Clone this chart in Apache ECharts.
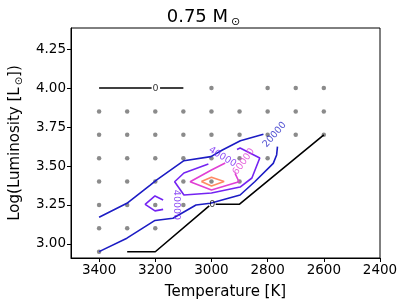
<!DOCTYPE html>
<html>
<head>
<meta charset="utf-8">
<script src="https://cdn.jsdelivr.net/npm/echarts@6/dist/echarts.min.js"></script>
<style>
html,body{margin:0;padding:0;background:#fff;}
#chart{width:407px;height:306px;}
</style>
</head>
<body>
<div id="chart"></div>
<script>
// ---- data ----
const tempTicks = [3400, 3200, 3000, 2800, 2600, 2400];
const lumTicks = [3.00, 3.25, 3.50, 3.75, 4.00, 4.25];

// model grid (gray dots): luminosity rows and the temperatures present on each row
const gridLum = [4.00, 3.85, 3.70, 3.55, 3.40, 3.25, 3.10, 2.95];
const gridTemps = [
  [3000, 2800, 2700, 2600],
  [3400, 3300, 3200, 3100, 3000, 2900, 2800, 2700, 2600],
  [3400, 3300, 3200, 3100, 3000, 2900, 2800, 2700, 2600],
  [3400, 3300, 3200, 3100, 3000, 2900, 2800],
  [3400, 3300, 3200, 3100, 3000, 2900],
  [3400, 3300, 3200, 3100],
  [3400, 3300, 3200],
  [3400]
];

// contour levels and their line segments ([T, logL] pairs)
const contourLevels = [0, 20000, 40000, 60000, 80000];
const level0 = [
  [[3400, 4.00], [3213, 4.00]],
  [[3183, 4.00], [3100, 4.00]],
  [[3300, 2.95], [3200, 2.95], [3008, 3.244]],
  [[2985, 3.255], [2900, 3.255], [2600, 3.70]]
];
const level20000 = [
  [[3400, 3.171], [3301, 3.261], [3218, 3.378], [3196, 3.41], [3098, 3.534], [3002, 3.56], [2961, 3.603], [2897, 3.662], [2815, 3.703]],
  [[2765, 3.624], [2768, 3.571], [2780, 3.517], [2846, 3.399], [2898, 3.314], [3004, 3.261], [3055, 3.25], [3137, 3.165], [3201, 3.151], [3301, 3.037], [3400, 2.951]]
];
const level40000 = [
  [[2909, 3.606], [2898, 3.615], [2828, 3.551], [2856, 3.423], [2898, 3.365], [3000, 3.327], [3098, 3.314], [3131, 3.399], [3098, 3.455], [3011, 3.513]],
  [[3172, 3.282], [3201, 3.308], [3236, 3.254], [3201, 3.212], [3172, 3.222]]
];
const level60000 = [
  [[2916, 3.453], [2902, 3.399], [3000, 3.346], [3076, 3.399], [3000, 3.474], [2951, 3.519]]
];
const level80000 = [
  [[3036, 3.40], [3000, 3.428], [2955, 3.40], [3000, 3.372], [3036, 3.40]]
];
const contourSegments = [level0, level20000, level40000, level60000, level80000];

// inline contour labels
const labelTexts = ['0', '0', '20000', '40000', '40000', '60000'];
const labelLevelIdx = [0, 0, 1, 2, 2, 3];
const labelPos = [[3199, 4.00], [2997, 3.255], [2775, 3.70], [2961, 3.558], [3126, 3.25], [2885, 3.528]];

// ---- styles ----
const levelColors = ['#000000', '#1c1cc4', '#7424f2', '#e040d4', '#ff8a64'];
const labelRotate = [0, 0, 49, -31, -90, 54];
const FONT = 'DejaVu Sans';

const series = [];
// gray grid dots
const dots = [];
gridLum.forEach((L, i) => gridTemps[i].forEach(T => dots.push([T, L])));
series.push({
  type: 'scatter', data: dots, symbolSize: 4.5, z: 2,
  itemStyle: { color: '#6e6e6e' }, silent: true
});
contourSegments.forEach((segs, li) => {
  segs.forEach(seg => {
    series.push({
      type: 'line', data: seg, symbol: 'none', z: 3, silent: true,
      lineStyle: { color: levelColors[li], width: 1.6 },
      animation: false
    });
  });
});
series.push({
  type: 'scatter', symbolSize: 0, z: 4, silent: true,
  data: labelPos.map((p, i) => ({
    value: p,
    label: {
      show: true, position: 'inside', formatter: labelTexts[i],
      rotate: labelRotate[i], color: levelColors[labelLevelIdx[i]],
      fontSize: 9.5, fontFamily: FONT
    }
  }))
});

const chart = echarts.init(document.getElementById('chart'), null, { renderer: 'canvas' });
chart.setOption({
  animation: false,
  backgroundColor: '#ffffff',
  title: {
    text: '{a|0.75 M}{s|⊙}',
    left: 'center', top: 2,
    textStyle: {
      fontWeight: 'normal',
      rich: {
        a: { fontSize: 18, color: '#000', fontFamily: FONT, fontWeight: 'normal' },
        s: { fontSize: 11, color: '#000', fontFamily: FONT, fontWeight: 'normal', padding: [10, 0, 0, 3] }
      }
    }
  },
  grid: { left: 67, right: 27, top: 28, bottom: 48, show: true, borderColor: '#000', borderWidth: 1 },
  xAxis: {
    type: 'value', inverse: true, min: 2400, max: 3500,
    name: 'Temperature [K]', nameLocation: 'middle', nameGap: 27,
    nameTextStyle: { fontSize: 15, color: '#000', fontFamily: FONT },
    axisLine: { onZero: false, lineStyle: { color: '#000', width: 1 } },
    axisTick: { customValues: tempTicks, length: 4, lineStyle: { color: '#000' } },
    axisLabel: { customValues: tempTicks, fontSize: 13.5, color: '#000', fontFamily: FONT, margin: 5,
      formatter: v => String(v) },
    splitLine: { show: false }
  },
  yAxis: {
    type: 'value', min: 2.91, max: 4.385,
    name: '{a|Log(Luminosity [L}{s|⊙}{a|])}', nameLocation: 'middle', nameGap: 47, nameRotate: 90,
    nameTextStyle: {
      rich: {
        a: { fontSize: 15, color: '#000', fontFamily: FONT },
        s: { fontSize: 10, color: '#000', fontFamily: FONT, padding: [7, 0, 0, 2] }
      }
    },
    axisLine: { onZero: false, lineStyle: { color: '#000', width: 1 } },
    axisTick: { customValues: lumTicks, length: 4, lineStyle: { color: '#000' } },
    axisLabel: { customValues: lumTicks, fontSize: 13.5, color: '#000', fontFamily: FONT, margin: 5,
      formatter: v => v.toFixed(2) },
    splitLine: { show: false }
  },
  series: series
});
</script>
</body>
</html>
